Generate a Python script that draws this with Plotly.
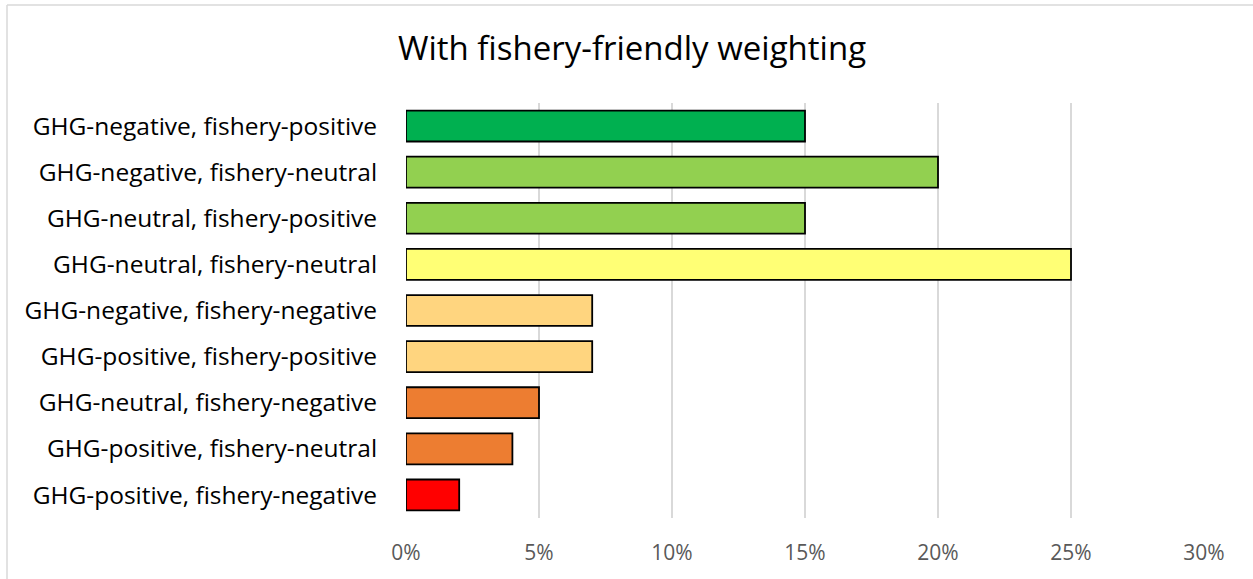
import plotly.graph_objects as go

categories = [
    "GHG-negative, fishery-positive",
    "GHG-negative, fishery-neutral",
    "GHG-neutral, fishery-positive",
    "GHG-neutral, fishery-neutral",
    "GHG-negative, fishery-negative",
    "GHG-positive, fishery-positive",
    "GHG-neutral, fishery-negative",
    "GHG-positive, fishery-neutral",
    "GHG-positive, fishery-negative",
]
values = [0.15, 0.20, 0.15, 0.25, 0.07, 0.07, 0.05, 0.04, 0.02]
colors = ["#00B050", "#92D050", "#92D050", "#FFFF75", "#FFD57F", "#FFD57F",
          "#ED7D31", "#ED7D31", "#FF0000"]
tick_vals = [0, 0.05, 0.10, 0.15, 0.20, 0.25, 0.30]
tick_text = ["0%", "5%", "10%", "15%", "20%", "25%", "30%"]

W, H = 1253, 579
ml, mr, mt, mb = 406, 49, 103, 61

fig = go.Figure(go.Bar(
    x=values, y=categories, orientation="h",
    marker=dict(color=colors, line=dict(color="#000000", width=1.8)),
    width=0.67,
))

pw = W - ml - mr
ph = H - mt - mb

fig.update_layout(
    width=W, height=H,
    margin=dict(l=ml, r=mr, t=mt, b=mb, autoexpand=False),
    paper_bgcolor="white", plot_bgcolor="white",
    font=dict(family="Open Sans, sans-serif", color="#000000"),
    title=dict(text="With fishery-friendly weighting", x=632 / W, xanchor="center",
               y=1 - 48 / H, yanchor="middle", xref="container", yref="container",
               font=dict(size=33, color="#000000")),
    showlegend=False,
    bargap=0.33,
    xaxis=dict(range=[0, 0.30], tickvals=tick_vals, ticktext=tick_text,
               showgrid=True, gridcolor="#D9D9D9", gridwidth=1.5,
               zeroline=False, showline=False,
               ticks="outside", ticklen=16, tickcolor="rgba(0,0,0,0)",
               tickfont=dict(size=21, color="#595959"), fixedrange=True),
    yaxis=dict(categoryorder="array", categoryarray=categories[::-1],
               showgrid=False, zeroline=False, showline=False,
               ticks="outside", ticklen=23, tickcolor="rgba(0,0,0,0)",
               tickfont=dict(size=24.5, color="#000000"), fixedrange=True),
    shapes=[
        dict(type="line", xref="paper", yref="paper",
             x0=(7 - ml) / pw, x1=(W + 20 - ml) / pw,
             y0=(H - mb - 5) / ph, y1=(H - mb - 5) / ph,
             line=dict(color="#D9D9D9", width=1.5)),
        dict(type="line", xref="paper", yref="paper",
             x0=(7 - ml) / pw, x1=(7 - ml) / pw,
             y0=(H - mb - 5) / ph, y1=(H - mb - H - 20) / ph,
             line=dict(color="#D9D9D9", width=1.5)),
    ],
)

fig.write_html("out.html")
